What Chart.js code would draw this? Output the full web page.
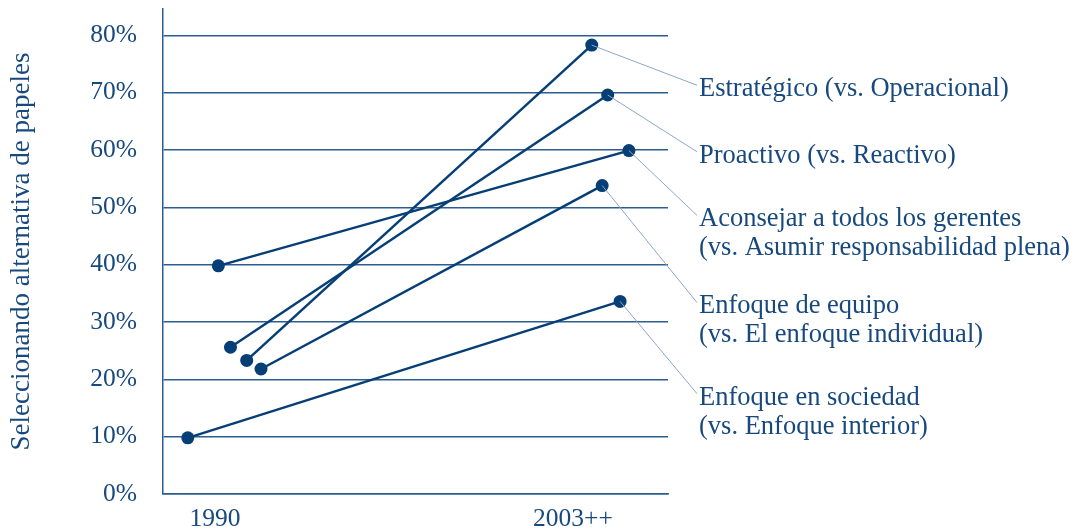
<!DOCTYPE html>
<html>
<head>
<meta charset="utf-8">
<script src="https://cdn.jsdelivr.net/npm/chart.js@4"></script>
<style>
  html, body { margin: 0; padding: 0; background: #fff; }
  #wrap { width: 1074px; height: 529px; position: relative; }
</style>
</head>
<body>
<div id="wrap"><canvas id="chart"></canvas></div>
<script>
// --- data ---
const seriesNames = [
	['Estratégico (vs. Operacional)'],
	['Proactivo (vs. Reactivo)'],
	['Aconsejar a todos los gerentes', '(vs. Asumir responsabilidad plena)'],
	['Enfoque de equipo', '(vs. El enfoque individual)'],
	['Enfoque en sociedad', '(vs. Enfoque interior)']
];
// x = year (points are spread a little around each year)
const startX = [1991.15, 1990.56, 1990.12, 1991.67, 1989.01];
const endX = [2003.68, 2004.26, 2005.03, 2004.06, 2004.71];
const startY = [23.3, 25.6, 39.8, 21.8, 9.8];
const endY = [78.3, 69.6, 59.9, 53.8, 33.6];
const xTickValues = [1990, 2003];
const xTickLabels = ['1990', '2003++'];
const yTicks = [0, 10, 20, 30, 40, 50, 60, 70, 80];
const yTitle = 'Seleccionando alternativa de papeles';

// --- style ---
const FONT = '"Liberation Serif", "Times New Roman", serif';
const TEXT = '#17497f';
const MARK = '#063e76';
const GRID = '#2b5d91';
const LEADER = '#8aa8c6';
// label anchor (first line centre), in y-axis units
const labelAt = [70.6, 59.0, 47.9, 32.7, 16.8];

const datasets = seriesNames.map((n, i) => ({
	label: n.join(' '),
	data: [{ x: startX[i], y: startY[i] }, { x: endX[i], y: endY[i] }],
	borderColor: MARK, backgroundColor: MARK,
	borderWidth: 2.5, pointRadius: 6.5, pointBorderWidth: 0, pointHoverRadius: 6.5,
	tension: 0
}));

const sideLabels = {
	id: 'sideLabels',
	afterDatasetsDraw(chart) {
		const { ctx, chartArea, scales } = chart;
		const tx = chartArea.right + 31;
		ctx.save();
		ctx.font = '26.5px ' + FONT;
		ctx.textBaseline = 'middle';
		ctx.textAlign = 'left';
		seriesNames.forEach((lines, i) => {
			const pt = chart.getDatasetMeta(i).data[1];
			const cy = scales.y.getPixelForValue(labelAt[i]);
			ctx.strokeStyle = LEADER;
			ctx.lineWidth = 1;
			ctx.beginPath();
			ctx.moveTo(pt.x, pt.y);
			ctx.lineTo(tx - 2, cy - 4);
			ctx.stroke();
			ctx.fillStyle = TEXT;
			lines.forEach((t, k) => ctx.fillText(t, tx, cy + k * 29));
		});
		ctx.restore();
	}
};

function noPad(s) { s.paddingTop = 0; s.paddingBottom = 0; s.paddingLeft = 0; s.paddingRight = 0; }

new Chart(document.getElementById('chart'), {
	type: 'line',
	data: { datasets },
	plugins: [sideLabels],
	options: {
		responsive: true, maintainAspectRatio: false, animation: false,
		layout: { padding: { top: 9, right: 406, left: 0, bottom: 0 } },
		plugins: { legend: { display: false }, tooltip: { enabled: false } },
		scales: {
			x: {
				type: 'linear', min: 1988.11, max: 2006.45,
				afterBuildTicks: s => { s.ticks = xTickValues.map(v => ({ value: v })); },
				afterFit: s => { s.height = 35; noPad(s); },
				ticks: {
					callback: v => xTickLabels[xTickValues.indexOf(v)],
					font: { family: FONT, size: 25.5 }, color: TEXT, padding: 2, maxRotation: 0
				},
				grid: { display: false },
				border: { display: true, color: GRID, width: 1.5 }
			},
			y: {
				min: 0, max: 84.6,
				afterBuildTicks: s => { s.ticks = yTicks.map(v => ({ value: v })); },
				afterFit: s => { s.width = 163; noPad(s); },
				ticks: {
					callback: v => v + '%',
					font: { family: FONT, size: 25.5 }, color: TEXT, padding: 26
				},
				grid: { color: GRID, lineWidth: 1.5, drawTicks: false },
				border: { display: true, color: GRID, width: 1.5 },
				title: {
					display: true, text: yTitle, color: TEXT,
					font: { family: FONT, size: 27 }, padding: { top: 6, bottom: 0 }
				}
			}
		}
	}
});
</script>
</body>
</html>
